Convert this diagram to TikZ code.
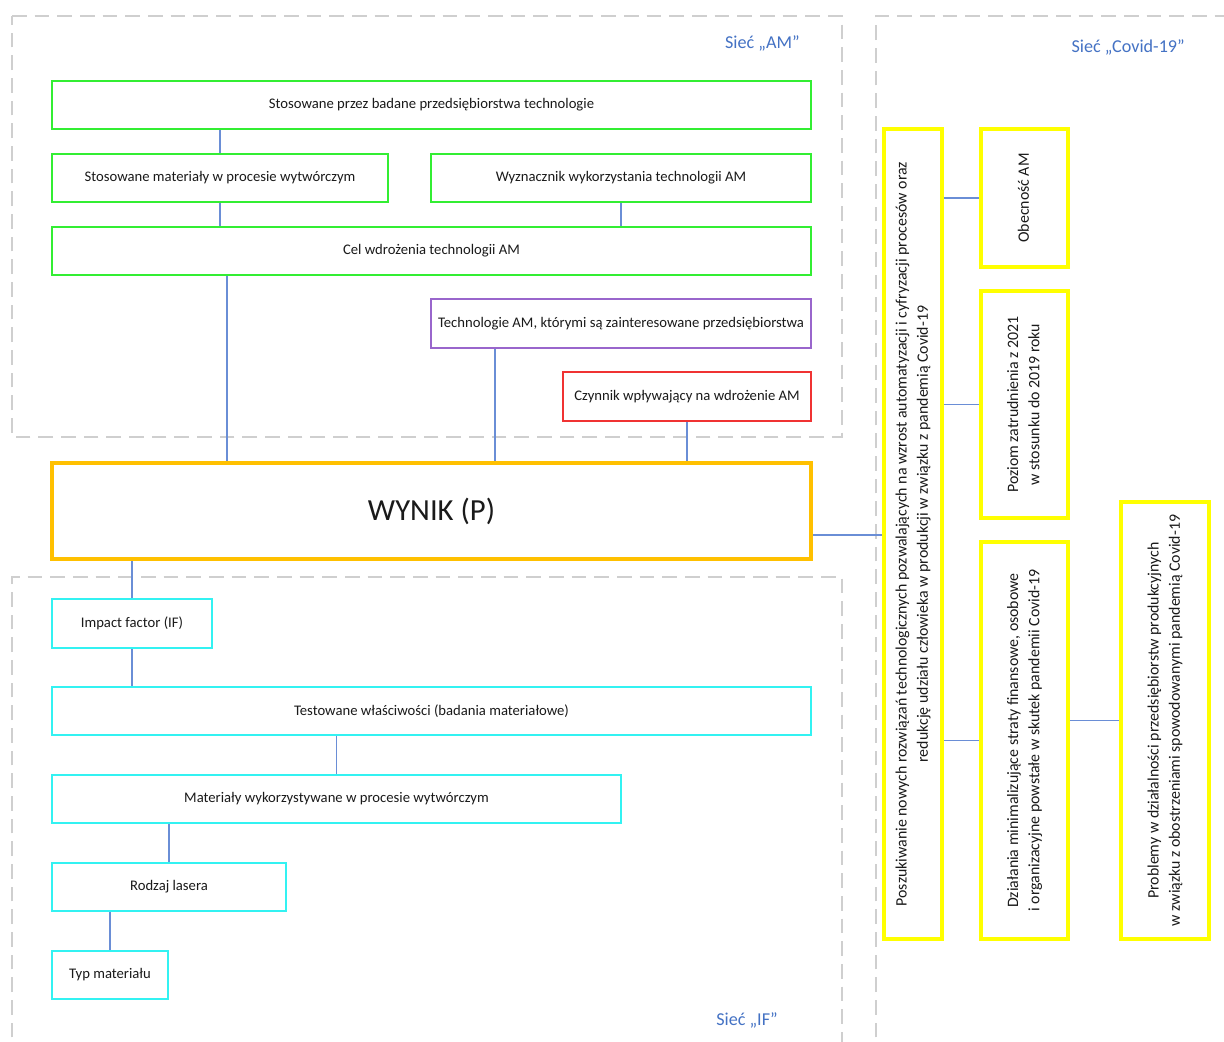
\documentclass[tikz,border=0pt]{standalone}
\usepackage{fontspec}
\setmainfont{Carlito}
\usetikzlibrary{calc}
\definecolor{amgreen}{HTML}{33EE33}
\definecolor{ifcyan}{HTML}{33F2F2}
\definecolor{covyellow}{HTML}{FFFF00}
\definecolor{resorange}{HTML}{FFC000}
\definecolor{techpurple}{HTML}{9966CC}
\definecolor{factred}{HTML}{F03333}
\definecolor{linkblue}{HTML}{6A8ED6}
\definecolor{netblue}{HTML}{4472C4}
\definecolor{netgray}{HTML}{CFCFCF}
\definecolor{inktext}{HTML}{1A1A1A}
\tikzset{
  box/.style={draw, rectangle, fill=white, inner sep=2pt, align=center,
    text=inktext, font=\fontsize{11}{13}\selectfont},
  greenbox/.style={box, draw=amgreen, line width=1.5pt},
  cyanbox/.style={box, draw=ifcyan, line width=1.5pt},
  yellowbox/.style={box, draw=covyellow, line width=3pt},
  link/.style={draw=linkblue, line width=0.8pt},
  netline/.style={draw=netgray, line width=1.1pt, dash pattern=on 11pt off 6pt},
  netlabel/.style={text=netblue, font=\fontsize{13.6}{15}\selectfont, inner sep=0pt},
  vtext/.style={font=\fontsize{11.9}{16}\selectfont}
}
\newcommand{\vlabel}[1]{\rotatebox{90}{\begin{tabular}{@{}c@{}}#1\end{tabular}}}
\begin{document}
\begin{tikzpicture}[x=0.75pt,y=-0.75pt]
\clip (0,0) rectangle (1224,1042);
\fill[white] (0,0) rectangle (1224,1042);

% network regions
\draw[netline] (12,16) -- (842,16) -- (842,437) -- (12,437) -- cycle;
\draw[netline] (12,1060) -- (12,577) -- (842,577) -- (842,1060);
\draw[netline] (876,1060) -- (876,16) -- (1240,16);

\node[netlabel, anchor=east] (lblAM) at (800,43) {Sieć „AM”};
\node[netlabel, anchor=east] (lblCov) at (1185,47) {Sieć „Covid-19”};
\node[netlabel, anchor=east] (lblIF) at (778,1020) {Sieć „IF”};

% AM network
\node[greenbox, minimum width=569.25pt, minimum height=36pt] (tech) at (431.5,105)
  {Stosowane przez badane przedsiębiorstwa technologie};
\node[greenbox, minimum width=252pt, minimum height=36pt] (mat) at (220,178)
  {Stosowane materiały w procesie wytwórczym};
\node[greenbox, minimum width=285pt, minimum height=36pt] (det) at (621,178)
  {Wyznacznik wykorzystania technologii AM};
\node[greenbox, minimum width=569.25pt, minimum height=36pt] (goal) at (431.5,251)
  {Cel wdrożenia technologii AM};
\node[box, draw=techpurple, line width=1.5pt, minimum width=285pt, minimum height=36.75pt] (interest) at (621,323.5)
  {Technologie AM, którymi są zainteresowane przedsiębiorstwa};
\node[box, draw=factred, line width=1.5pt, minimum width=186pt, minimum height=36.75pt] (factor) at (687,396.5)
  {Czynnik wpływający na wdrożenie AM};

% result
\node[box, draw=resorange, line width=3pt, minimum width=569.25pt, minimum height=72pt,
  font=\fontsize{23}{26}\selectfont] (result) at (431.5,511) {WYNIK (P)};

% IF network
\node[cyanbox, minimum width=120pt, minimum height=36.75pt] (impact) at (132,623.5)
  {Impact factor (IF)};
\node[cyanbox, minimum width=569.25pt, minimum height=36pt] (tested) at (431.5,711)
  {Testowane właściwości (badania materiałowe)};
\node[cyanbox, minimum width=426.75pt, minimum height=36pt] (used) at (336.5,799)
  {Materiały wykorzystywane w procesie wytwórczym};
\node[cyanbox, minimum width=175.5pt, minimum height=36pt] (laser) at (169,887)
  {Rodzaj lasera};
\node[cyanbox, minimum width=87pt, minimum height=36pt] (mtype) at (110,975)
  {Typ materiału};

% Covid-19 network
\node[yellowbox, vtext, minimum width=43.5pt, minimum height=607.5pt] (search) at (913,534)
  {\vlabel{Poszukiwanie nowych rozwiązań technologicznych pozwalających na wzrost automatyzacji i cyfryzacji procesów oraz\\
   redukcję udziału człowieka w produkcji w związku z pandemią Covid-19}};
\node[yellowbox, vtext, minimum width=65.25pt, minimum height=103.5pt] (presence) at (1024.5,198)
  {\vlabel{Obecność AM}};
\node[yellowbox, vtext, minimum width=65.25pt, minimum height=170.25pt] (employ) at (1024.5,404.5)
  {\vlabel{Poziom zatrudnienia z 2021\\ w stosunku do 2019 roku}};
\node[yellowbox, vtext, minimum width=65.25pt, minimum height=297.75pt] (losses) at (1024.5,740.5)
  {\vlabel{Działania minimalizujące straty finansowe, osobowe\\ i organizacyjne powstałe w skutek pandemii Covid-19}};
\node[yellowbox, vtext, minimum width=66pt, minimum height=327.75pt] (problems) at (1165,720.5)
  {\vlabel{Problemy w działalności przedsiębiorstw produkcyjnych\\ w związku z obostrzeniami spowodowanymi pandemią Covid-19}};

% connectors
\draw[link] (mat.north) -- (mat.north |- tech.south);
\draw[link] (mat.south) -- (mat.south |- goal.north);
\draw[link] (det.south) -- (det.south |- goal.north);
\draw[link] ([xshift=132pt]goal.south west) -- ([xshift=132pt]goal.south west |- result.north);
\draw[link] ([xshift=48.75pt]interest.south west) -- ([xshift=48.75pt]interest.south west |- result.north);
\draw[link] (factor.south) -- (factor.south |- result.north);
\draw[link] (impact.north) -- (impact.north |- result.south);
\draw[link] (impact.south) -- (impact.south |- tested.north);
\draw[link] (used.north) -- (used.north |- tested.south);
\draw[link] (laser.north) -- (laser.north |- used.south);
\draw[link] (mtype.north) -- (mtype.north |- laser.south);
\draw[link] ([yshift=-18pt]result.east) -- ([yshift=-18pt]result.east -| search.west);
\draw[link] (presence.west) -- (presence.west -| search.east);
\draw[link] (employ.west) -- (employ.west -| search.east);
\draw[link] (losses.west) -- (losses.west -| search.east);
\draw[link] (problems.west) -- (problems.west -| losses.east);
\end{tikzpicture}
\end{document}
